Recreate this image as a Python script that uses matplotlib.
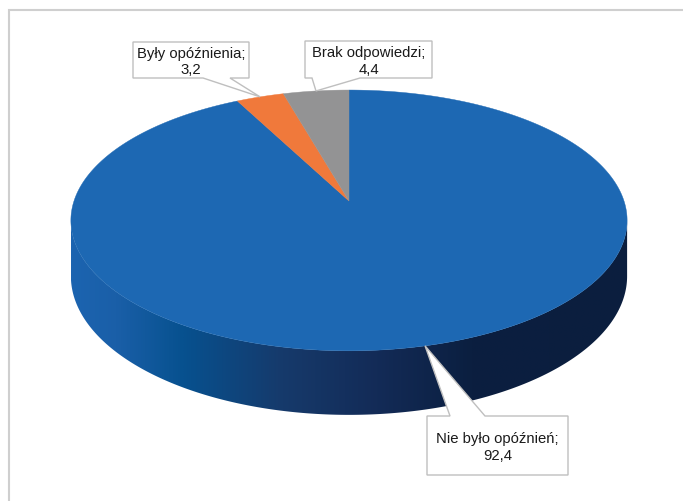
import numpy as np
import matplotlib.pyplot as plt
from matplotlib.patches import Polygon
from matplotlib.colors import LinearSegmentedColormap

plt.rcParams['font.family'] = ['Liberation Sans', 'DejaVu Sans']

labels = ['Nie było opóźnień', 'Były opóźnienia', 'Brak odpowiedzi']
values = [92.4, 3.2, 4.4]
colors = ['#1d68b3', '#f0793b', '#939394']

# pie geometry in pixels (perspective disc)
CX, CY = 349, 202
A, B, K = 275, 127.5, 0.149
T = 54.5  # thickness


def proj(theta, z=0.0):
    """theta in degrees, clockwise from 12 o'clock."""
    t = np.radians(theta)
    u, v = np.sin(t), np.cos(t)
    w = 1 + K * v
    return CX + A * u / w, CY - B * v / w + z * T / w


fig = plt.figure(figsize=(6.83, 5.02), dpi=100)
ax = fig.add_axes([0, 0, 1, 1])
ax.set_xlim(0, 683)
ax.set_ylim(502, 0)
ax.axis('off')

# outer frame (only top/left visible)
ax.plot([8.5, 8.5, 683], [502, 10.5, 10.5], color='#cfcfcf', lw=1.5,
        solid_joinstyle='miter')

# side of the pie: front half, between the silhouette points
sil = np.degrees(np.arccos(-K))
th = np.linspace(sil, 360 - sil, 300)
xt, yt = proj(th)
xb, yb = proj(th[::-1], 1.0)
side = Polygon(np.column_stack([np.r_[xt, xb], np.r_[yt, yb]]),
               closed=True, facecolor='none', edgecolor='none')
ax.add_patch(side)
side_cmap = LinearSegmentedColormap.from_list('side', [
    (0.0, '#1c64b0'), (0.08, '#1a5fa8'), (0.2, '#07518f'),
    (0.38, '#163a6b'), (0.55, '#132b57'), (0.72, '#0b1f40'),
    (1.0, '#0b1e3e')])
grad = np.linspace(0, 1, 512).reshape(1, -1)
x_left, _ = proj(360 - sil)
x_right, _ = proj(sil)
img = ax.imshow(grad, cmap=side_cmap, aspect='auto',
                extent=(x_left, x_right, 430, 200), interpolation='bilinear')
img.set_clip_path(side)

# top face wedges
starts = np.r_[0, np.cumsum(values)[:-1]] / sum(values) * 360
spans = np.array(values) / sum(values) * 360
for start, span, col in zip(starts, spans, colors):
    a = np.linspace(start, start + span, max(int(span * 2), 4))
    x, y = proj(a)
    pts = np.column_stack([np.r_[CX, x], np.r_[CY, y]])
    ax.add_patch(Polygon(pts, closed=True, facecolor=col, edgecolor=col,
                         lw=0.3))

ax.set_xlim(0, 683)
ax.set_ylim(502, 0)

# callout boxes: (left, top, right, bottom), pointer base x, side
boxes = [
    ((427, 417, 568, 476), (450, 485), 'top'),
    ((133, 43, 249, 79), (203, 230), 'bottom'),
    ((305, 42, 432, 79), (312, 360), 'bottom'),
]
for (lab, val, start, span, (box, base, where)) in zip(
        labels, values, starts, spans, boxes):
    tx, ty = proj(start + span / 2)
    l, t, r, b = box
    if where == 'bottom':
        pts = [(l, t), (r, t), (r, b), (base[1], b), (tx, ty),
               (base[0], b), (l, b)]
    else:
        pts = [(l, t), (base[0], t), (tx, ty), (base[1], t), (r, t),
               (r, b), (l, b)]
    ax.add_patch(Polygon(pts, closed=True, facecolor='white',
                         edgecolor='#bfbfbf', lw=1.0, zorder=5))
    text = f'{lab};\n{val:.1f}'.replace('.', ',')
    ax.text((l + r) / 2, (t + b) / 2 + 1, text, ha='center', va='center',
            fontsize=10.7, color='#1a1a1a', linespacing=1.2, zorder=6)

fig.savefig('out.png', dpi=100)
